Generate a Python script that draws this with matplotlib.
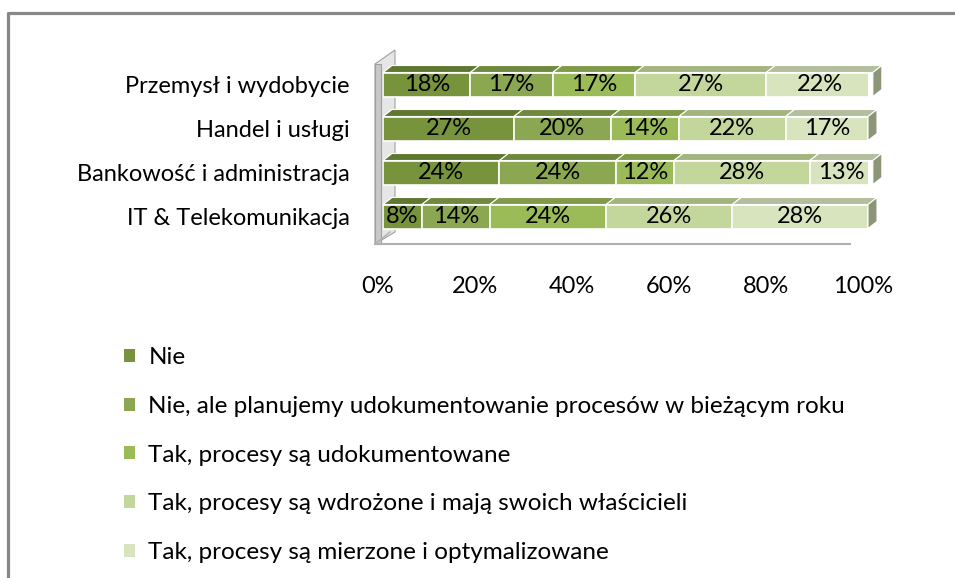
import matplotlib
matplotlib.use("Agg")
import matplotlib.pyplot as plt
import matplotlib.transforms as mtransforms
from matplotlib.patches import Polygon, Patch

plt.rcParams['font.family'] = ['Lato', 'DejaVu Sans']

# data (bottom row first)
categories = ['IT & Telekomunikacja', 'Bankowość i administracja', 'Handel i usługi', 'Przemysł i wydobycie']
nie = [8, 24, 27, 18]
nie_plan = [14, 24, 20, 17]
tak_dok = [24, 12, 14, 17]
tak_wdr = [26, 28, 22, 27]
tak_mierz = [28, 13, 17, 22]
series_names = ['Nie',
                'Nie, ale planujemy udokumentowanie procesów w bieżącym roku',
                'Tak, procesy są udokumentowane',
                'Tak, procesy są wdrożone i mają swoich właścicieli',
                'Tak, procesy są mierzone i optymalizowane']
series = [nie, nie_plan, tak_dok, tak_wdr, tak_mierz]
colors = ['#77933C', '#8BA751', '#9BBB59', '#C3D69B', '#D7E4BD']
top_colors = ['#5F7830', '#6F8A3E', '#7F9A48', '#A3B47F', '#B3BE9C']
side_color = '#8C9577'

W, H = 955, 578
fig = plt.figure(figsize=(W / 100, H / 100), dpi=100)

# background layer in pixel coords: frame, wall, floor
bg = fig.add_axes([0, 0, 1, 1])
bg.set_xlim(0, W)
bg.set_ylim(H, 0)
bg.axis('off')
bg.plot([8, 8, W], [H, 13, 13], color='#888888', lw=2.3, solid_capstyle='butt')
bg.add_patch(Polygon([(375, 244), (375, 64), (395, 50), (395, 232)], closed=True,
                     facecolor='#e6e6e6', edgecolor='#a0a0a0', lw=0.8))
bg.add_patch(Polygon([(375, 244), (375, 64), (381, 64), (381, 244)], closed=True,
                     facecolor='#c8c8c8', edgecolor='#a0a0a0', lw=0.8))
bg.plot([375, 850], [244, 244], color='#b0b0b0', lw=1.5)
bg.plot([375, 390], [244, 232], color='#b0b0b0', lw=1.0)

# bar area
x0, x1, ytop, ybot = 383, 868, 50, 243
ax = fig.add_axes([x0 / W, (H - ybot) / H, (x1 - x0) / W, (ybot - ytop) / H])
ax.patch.set_alpha(0)
pitch = 44.0
ax.set_xlim(0, 100)
ax.set_ylim(-(ybot - 216.5) / pitch, (216.5 - ytop) / pitch)

bh = 24 / pitch
dx = 9 / ((x1 - x0) / 100)
dy = 7 / pitch

ypos = list(range(len(categories)))
for i in ypos:
    left = 0
    for k, vals in enumerate(series):
        v = vals[i]
        ax.barh(i, v, left=left, height=bh, color=colors[k], edgecolor='white', lw=1.2, zorder=3)
        yt = i + bh / 2
        ax.add_patch(Polygon([(left, yt), (left + dx, yt + dy), (left + v + dx, yt + dy), (left + v, yt)],
                             closed=True, facecolor=top_colors[k], edgecolor='white', lw=0.8,
                             clip_on=False, zorder=2))
        ax.text(left + v / 2, i, f'{v}%', ha='center', va='center', fontsize=17, color='black', zorder=4)
        left += v
    yb = i - bh / 2
    ax.add_patch(Polygon([(left, yb), (left, yb + bh), (left + dx, yb + bh + dy), (left + dx, yb + dy)],
                         closed=True, facecolor=side_color, edgecolor='white', lw=0.8,
                         clip_on=False, zorder=2))

ax.set_yticks(ypos)
ax.set_yticklabels(categories, fontsize=17)
ax.set_xticks([0, 20, 40, 60, 80, 100])
ax.set_xticklabels([f'{t}%' for t in [0, 20, 40, 60, 80, 100]], fontsize=17)
ax.tick_params(length=0)
ax.tick_params(axis='y', pad=24)
ax.tick_params(axis='x', pad=24)
shift = mtransforms.ScaledTranslation(-5 / 100, 0, fig.dpi_scale_trans)
for lab in ax.get_xticklabels():
    lab.set_transform(lab.get_transform() + shift)
for s in ax.spines.values():
    s.set_visible(False)

handles = [Patch(facecolor=c, edgecolor='none') for c in colors]
fig.legend(handles, series_names, loc='upper left', bbox_to_anchor=(112 / W, 1 - 335 / H),
           frameon=False, fontsize=17.5, labelspacing=1.14, handlelength=0.45, handleheight=0.45,
           handletextpad=0.55, borderpad=0)

fig.savefig('out.png', dpi=100)
